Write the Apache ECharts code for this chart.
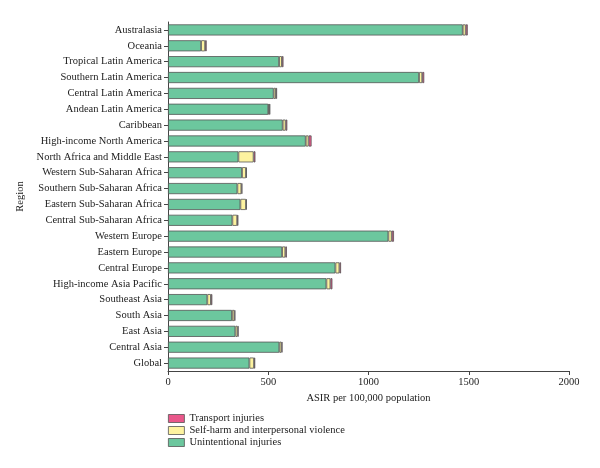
<!DOCTYPE html>
<html lang="en">
<head>
  <meta charset="UTF-8">
  <title>ASIR by region</title>
  <style>
    html, body{margin: 0; padding: 0; background: #fff}
    #chart{width: 600px; height: 468px}
  </style>
  <script src="https://cdn.jsdelivr.net/npm/echarts@6/dist/echarts.min.js"></script>
</head>
<body>
  <div id="chart"></div>
  <script>
    // top to bottom as in the figure
    const regions = ['Australasia', 'Oceania', 'Tropical Latin America', 'Southern Latin America',
      'Central Latin America', 'Andean Latin America', 'Caribbean', 'High-income North America',
      'North Africa and Middle East', 'Western Sub-Saharan Africa', 'Southern Sub-Saharan Africa',
      'Eastern Sub-Saharan Africa', 'Central Sub-Saharan Africa', 'Western Europe', 'Eastern Europe',
      'Central Europe', 'High-income Asia Pacific', 'Southeast Asia', 'South Asia', 'East Asia',
      'Central Asia', 'Global'];
    const unintentional = [1470, 165, 554, 1252, 527, 500, 572, 687, 351, 369, 346, 361, 321, 1099, 569, 835, 790, 196, 319, 336, 555, 406];
    const selfHarm = [15, 20, 14, 16, 11, 5, 15, 14, 76, 20, 20, 28, 24, 17, 16, 20, 20, 18, 12, 11, 11, 23];
    const transport = [10, 8, 8, 10, 6, 5, 8, 15, 9, 4, 5, 4, 6, 11, 8, 8, 10, 7, 5, 5, 5, 6];
    const xTicks = [0, 500, 1000, 1500, 2000];

    const font = '"Liberation Serif", "DejaVu Serif", serif';
    const border = {borderColor: '#555', borderWidth: 0.8};

    const chart = echarts.init(document.getElementById('chart'));
    chart.setOption({
      animation: false,
      textStyle: {fontFamily: font, color: '#222'},
      grid: {left: 168, right: 31, top: 22, bottom: 97},
      legend: {
        orient: 'vertical',
        left: 163, top: 408,
        icon: 'rect',
        itemWidth: 16, itemHeight: 8, itemGap: 1,
        itemStyle: {borderColor: '#555', borderWidth: 0.8},
        textStyle: {fontFamily: font, fontSize: 10.5, color: '#222'},
        data: ['Transport injuries', 'Self-harm and interpersonal violence', 'Unintentional injuries']
      },
      xAxis: {
        type: 'value',
        min: xTicks[0], max: xTicks[xTicks.length - 1], interval: 500,
        name: 'ASIR per 100,000 population',
        nameLocation: 'middle', nameGap: 18,
        nameTextStyle: {fontFamily: font, fontSize: 10.5, color: '#222'},
        axisLine: {show: true, lineStyle: {color: '#444'}},
        axisTick: {show: true, length: 4, lineStyle: {color: '#444'}},
        axisLabel: {fontFamily: font, fontSize: 10.5, color: '#222', margin: 6,
          formatter: v => String(v)},
        splitLine: {show: false}
      },
      yAxis: {
        type: 'category',
        inverse: true,
        data: regions,
        name: 'Region',
        nameLocation: 'middle', nameGap: 139, nameRotate: 90,
        nameTextStyle: {fontFamily: font, fontSize: 10.5, color: '#222'},
        axisLine: {show: true, lineStyle: {color: '#444'}},
        axisTick: {show: true, alignWithLabel: true, length: 4, lineStyle: {color: '#444'}},
        axisLabel: {fontFamily: font, fontSize: 10.5, color: '#222', margin: 6}
      },
      series: [
        {name: 'Unintentional injuries', type: 'bar', stack: 'a', barWidth: '70%',
          itemStyle: Object.assign({color: '#6cc79e'}, border), data: unintentional},
        {name: 'Self-harm and interpersonal violence', type: 'bar', stack: 'a',
          itemStyle: Object.assign({color: '#fdf3a0'}, border), data: selfHarm},
        {name: 'Transport injuries', type: 'bar', stack: 'a',
          itemStyle: Object.assign({color: '#e9578a'}, border), data: transport}
      ]
    });
  </script>
</body>
</html>
